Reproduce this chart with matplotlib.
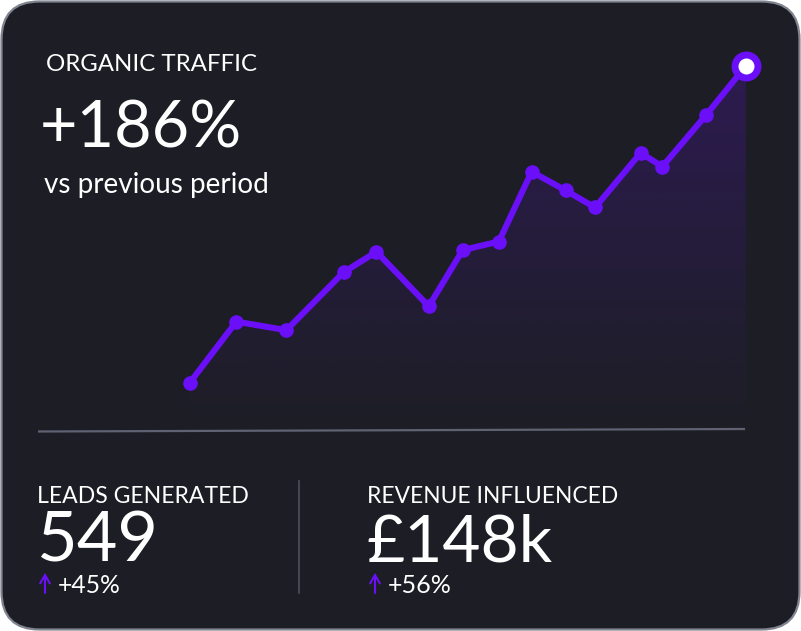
import matplotlib
matplotlib.use("Agg")
import matplotlib.pyplot as plt
from matplotlib.patches import FancyBboxPatch, Polygon, FancyArrowPatch
import numpy as np

# ---------------- data ----------------
period_pos = [0, 8.4, 17.4, 27.7, 33.6, 43.0, 49.1, 55.6, 61.5, 67.6, 72.9, 81.1, 85.0, 92.8, 100]
traffic_index = [100, 136, 131, 165, 177, 145, 178, 183, 224, 213, 203, 235, 227, 257, 286]

title_label = "ORGANIC TRAFFIC"
headline = "+186%"
subtitle = "vs previous period"
kpi_labels = ["LEADS GENERATED", "REVENUE INFLUENCED"]
kpi_values = ["549", "£148k"]
kpi_changes = ["+45%", "+56%"]

# ---------------- style ----------------
W, H = 801, 631
BG = "#1d1e25"
BORDER = "#80848f"
PURPLE = "#6a0ff8"
TEXT = "#ffffff"
FONT = "Lato"

fig = plt.figure(figsize=(W / 100, H / 100), dpi=100)
fig.patch.set_facecolor("white")

# pixel-space background axes
bg = fig.add_axes([0, 0, 1, 1])
bg.set_xlim(0, W)
bg.set_ylim(H, 0)
bg.axis("off")
card = FancyBboxPatch((1.5, 1.5), W - 3, H - 3,
                      boxstyle="round,pad=0,rounding_size=38",
                      facecolor=BG, edgecolor=BORDER, linewidth=1.6)
bg.add_patch(card)

# separators
bg.plot([38, 745], [431.5, 429], color="#5e6271", lw=1.6, solid_capstyle="butt")
bg.plot([299, 299], [481, 593], color="#4c505c", lw=1.2)

# ---------------- chart axes ----------------
x0_px, x1_px = 189.6, 745.8   # pixel x of first/last period
y_lo_px, y_hi_px = 383.0, 66.0  # pixel y of first/last value
xmin, xmax = -5, 105
ymin, ymax = 70, 300
sx = (x1_px - x0_px) / (period_pos[-1] - period_pos[0])
sy = (y_lo_px - y_hi_px) / (traffic_index[-1] - traffic_index[0])
left_px = x0_px - (period_pos[0] - xmin) * sx
right_px = x1_px + (xmax - period_pos[-1]) * sx
bottom_px = y_lo_px + (traffic_index[0] - ymin) * sy
top_px = y_hi_px - (ymax - traffic_index[-1]) * sy
ax = fig.add_axes([left_px / W, 1 - bottom_px / H,
                   (right_px - left_px) / W, (bottom_px - top_px) / H])
ax.set_xlim(xmin, xmax)
ax.set_ylim(ymin, ymax)
ax.axis("off")
ax.patch.set_alpha(0)

# gradient fill under the line
fill_floor = 72
verts = [(period_pos[0], fill_floor)] + list(zip(period_pos, traffic_index)) + [(period_pos[-1], fill_floor)]
poly = Polygon(verts, closed=True, facecolor="none", edgecolor="none")
ax.add_patch(poly)
grad = np.zeros((256, 1, 4))
rgb = matplotlib.colors.to_rgb(PURPLE)
grad[..., 0], grad[..., 1], grad[..., 2] = rgb
grad[:, 0, 3] = np.linspace(0.0, 0.21, 256)
im = ax.imshow(grad, extent=[period_pos[0], period_pos[-1], fill_floor, traffic_index[-1]],
               origin="lower", aspect="auto", interpolation="bilinear", zorder=1)
im.set_clip_path(poly)

ax.plot(period_pos, traffic_index, color=PURPLE, lw=4.4, marker="o", ms=9.5,
        solid_joinstyle="round", solid_capstyle="round", zorder=3)
ax.plot(period_pos[-1], traffic_index[-1], marker="o", ms=20.5, mfc=PURPLE, mec=PURPLE, zorder=4)
ax.plot(period_pos[-1], traffic_index[-1], marker="o", ms=10.5, mfc="white", mec="white", zorder=5)

# ---------------- texts ----------------
fig.canvas.draw()
renderer = fig.canvas.get_renderer()


def fit_text(x, y, s, width, size, weight="normal", color=TEXT, family=FONT):
    t = bg.text(x, y, s, fontsize=size, fontweight=weight, color=color,
                family=family, va="baseline", ha="left")
    w = t.get_window_extent(renderer).width
    if w > 0:
        t.set_fontsize(size * width / w)
    return t


fit_text(46, 71, title_label, 211, 16)
fit_text(40, 148, headline, 202, 50)
fit_text(44, 193, subtitle, 224, 17)

kpi_x = [37, 367]
label_w = [212, 249]
value_w = [122, 186]
change_w = [63, 64]
for i in range(2):
    x = kpi_x[i]
    fit_text(x, 503, kpi_labels[i], label_w[i], 16)
    fit_text(x - 1, 562, kpi_values[i], value_w[i], 50)
    arr = FancyArrowPatch((x + 8, 593), (x + 8, 573),
                          arrowstyle="->,head_length=6,head_width=3.5",
                          color=PURPLE, lw=1.5, mutation_scale=1, shrinkA=0, shrinkB=0,
                          capstyle="round", joinstyle="miter")
    bg.add_patch(arr)
    fit_text(x + 21, 593, kpi_changes[i], change_w[i], 16)

fig.savefig("out.png", dpi=100, facecolor=fig.get_facecolor())
